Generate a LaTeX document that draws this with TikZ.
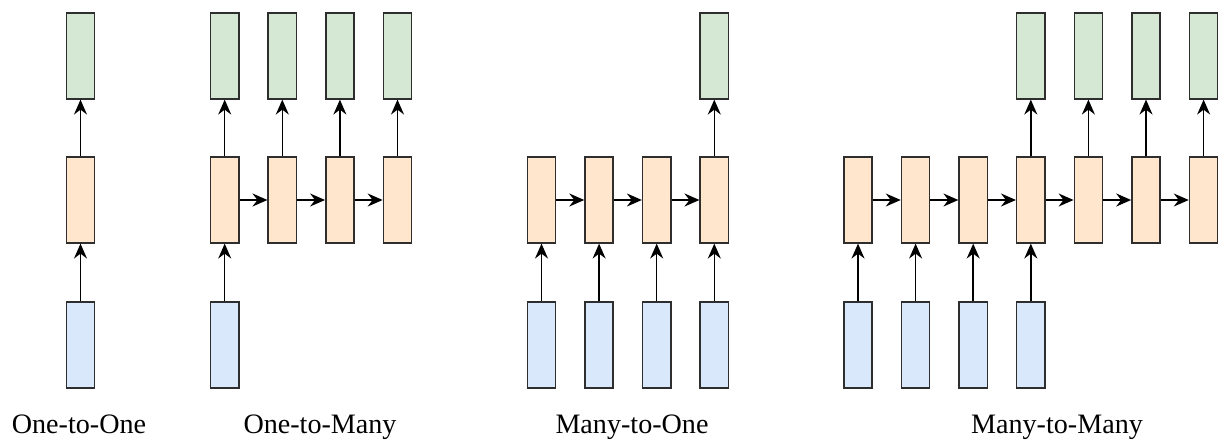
\documentclass[tikz,border=0pt]{standalone}
\usepackage{fontspec}
\setmainfont{Liberation Serif}
\usetikzlibrary{positioning,arrows.meta}

\definecolor{outfill}{HTML}{D5E8D4}
\definecolor{hidfill}{HTML}{FFE6CC}
\definecolor{infill}{HTML}{DAE8FC}
\definecolor{boxline}{HTML}{2E2E2E}

\tikzset{
  cell/.style={draw=boxline, line width=0.85pt, minimum width=0.565cm, minimum height=1.715cm, inner sep=0pt},
  outcell/.style={cell, fill=outfill},
  hidcell/.style={cell, fill=hidfill},
  incell/.style={cell, fill=infill},
  link/.style={-{Stealth[length=8.5pt,width=7.4pt,inset=2.8pt]}, line width=0.85pt},
  caption/.style={anchor=base, font=\fontsize{16}{19}\selectfont},
}

\begin{document}
\begin{tikzpicture}[x=0.02cm,y=-0.02cm]
\useasboundingbox (0,0) rectangle (1222,439);
\def\dx{57.6}
\def\yo{56}
\def\yh{200}
\def\yi{345}
\def\yl{433}

% one-to-one
\def\xa{80.5}
\node[outcell] (ooy) at (\xa, \yo) {};
\node[hidcell] (ooh) at (\xa, \yh) {};
\node[incell] (oox) at (\xa, \yi) {};
\draw[link] (oox) -- (ooh);
\draw[link] (ooh) -- (ooy);
\node[caption] (oocap) at (79, \yl) {One-to-One};

% one-to-many
\def\xb{224.7}
\node[hidcell] (omh1) at (\xb, \yh) {};
\node[hidcell] (omh2) at (\xb + \dx, \yh) {};
\node[hidcell] (omh3) at (\xb + \dx * 2, \yh) {};
\node[hidcell] (omh4) at (\xb + \dx * 3, \yh) {};
\node[outcell] (omy1) at (\xb, \yo) {};
\node[outcell] (omy2) at (\xb + \dx, \yo) {};
\node[outcell] (omy3) at (\xb + \dx * 2, \yo) {};
\node[outcell] (omy4) at (\xb + \dx * 3, \yo) {};
\node[incell] (omx1) at (\xb, \yi) {};
\draw[link] (omx1) -- (omh1);
\draw[link] (omh1) -- (omh2);
\draw[link] (omh2) -- (omh3);
\draw[link] (omh3) -- (omh4);
\draw[link] (omh1) -- (omy1);
\draw[link] (omh2) -- (omy2);
\draw[link] (omh3) -- (omy3);
\draw[link] (omh4) -- (omy4);
\node[caption] (omcap) at (320, \yl) {One-to-Many};

% many-to-one
\def\xc{541.5}
\node[hidcell] (moh1) at (\xc, \yh) {};
\node[hidcell] (moh2) at (\xc + \dx, \yh) {};
\node[hidcell] (moh3) at (\xc + \dx * 2, \yh) {};
\node[hidcell] (moh4) at (\xc + \dx * 3, \yh) {};
\node[incell] (mox1) at (\xc, \yi) {};
\node[incell] (mox2) at (\xc + \dx, \yi) {};
\node[incell] (mox3) at (\xc + \dx * 2, \yi) {};
\node[incell] (mox4) at (\xc + \dx * 3, \yi) {};
\node[outcell] (moy4) at (\xc + \dx * 3, \yo) {};
\draw[link] (mox1) -- (moh1);
\draw[link] (mox2) -- (moh2);
\draw[link] (mox3) -- (moh3);
\draw[link] (mox4) -- (moh4);
\draw[link] (moh1) -- (moh2);
\draw[link] (moh2) -- (moh3);
\draw[link] (moh3) -- (moh4);
\draw[link] (moh4) -- (moy4);
\node[caption] (mocap) at (632, \yl) {Many-to-One};

% many-to-many
\def\xd{858}
\node[hidcell] (mmh1) at (\xd, \yh) {};
\node[hidcell] (mmh2) at (\xd + \dx, \yh) {};
\node[hidcell] (mmh3) at (\xd + \dx * 2, \yh) {};
\node[hidcell] (mmh4) at (\xd + \dx * 3, \yh) {};
\node[hidcell] (mmh5) at (\xd + \dx * 4, \yh) {};
\node[hidcell] (mmh6) at (\xd + \dx * 5, \yh) {};
\node[hidcell] (mmh7) at (\xd + \dx * 6, \yh) {};
\node[incell] (mmx1) at (\xd, \yi) {};
\node[incell] (mmx2) at (\xd + \dx, \yi) {};
\node[incell] (mmx3) at (\xd + \dx * 2, \yi) {};
\node[incell] (mmx4) at (\xd + \dx * 3, \yi) {};
\node[outcell] (mmy4) at (\xd + \dx * 3, \yo) {};
\node[outcell] (mmy5) at (\xd + \dx * 4, \yo) {};
\node[outcell] (mmy6) at (\xd + \dx * 5, \yo) {};
\node[outcell] (mmy7) at (\xd + \dx * 6, \yo) {};
\draw[link] (mmx1) -- (mmh1);
\draw[link] (mmx2) -- (mmh2);
\draw[link] (mmx3) -- (mmh3);
\draw[link] (mmx4) -- (mmh4);
\draw[link] (mmh1) -- (mmh2);
\draw[link] (mmh2) -- (mmh3);
\draw[link] (mmh3) -- (mmh4);
\draw[link] (mmh4) -- (mmh5);
\draw[link] (mmh5) -- (mmh6);
\draw[link] (mmh6) -- (mmh7);
\draw[link] (mmh4) -- (mmy4);
\draw[link] (mmh5) -- (mmy5);
\draw[link] (mmh6) -- (mmy6);
\draw[link] (mmh7) -- (mmy7);
\node[caption] (mmcap) at (1057, \yl) {Many-to-Many};

\end{tikzpicture}
\end{document}
